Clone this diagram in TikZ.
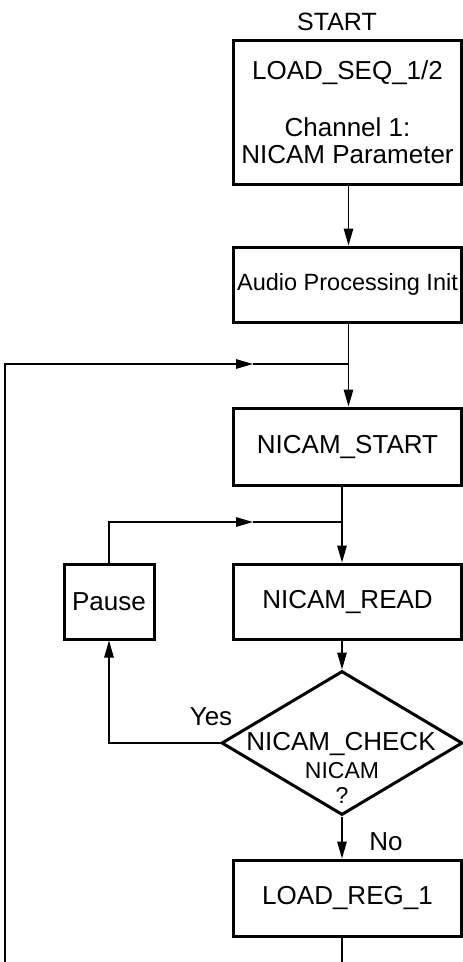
\documentclass[tikz,border=0pt]{standalone}
\usepackage{fontspec}
\setmainfont{Liberation Sans}
\usetikzlibrary{arrows.meta,shapes.geometric}
\begin{document}
\begin{tikzpicture}[x=1pt,y=-1pt,
  box/.style={draw, line width=3pt, rectangle, minimum width=228pt, inner sep=0pt,
    font=\fontsize{26}{27}\selectfont, align=center},
  conn/.style={line width=1.3pt},
  arr/.style={conn, -{Triangle[length=17pt,width=9.5pt]}},
  lbl/.style={font=\fontsize{26}{27}\selectfont, inner sep=0pt, anchor=base}]
\useasboundingbox (0,0) rectangle (463,962);

% boxes
\node[box, minimum height=144pt] (seq) at (347.5,112) {LOAD\_SEQ\_1/2\\[30pt]Channel 1:\\NICAM Parameter};
\node[box, minimum height=75pt, font=\fontsize{23.5}{26}\selectfont] (audio) at (347.5,284.5) {Audio Processing Init};
\node[box, minimum height=77pt] (nstart) at (347.5,446.5) {NICAM\_START};
\node[box, minimum height=75pt] (nread) at (347.5,601.5) {NICAM\_READ};
\node[box, minimum width=90pt, minimum height=75pt] (pause) at (109,601.5) {Pause};
\node[draw, diamond, line width=3pt, minimum width=241pt, minimum height=144pt, inner sep=0pt] (chk) at (342,743) {};
\node[box, minimum height=76pt] (loadreg) at (347.5,898) {LOAD\_REG\_1};

% texts
\node[lbl, font=\fontsize{25}{27}\selectfont] (start) at (337,30) {START};
\node[lbl] (t1) at (341,750.5) {NICAM\_CHECK};
\node[lbl, font=\fontsize{23}{25}\selectfont] (t2) at (342,778) {NICAM};
\node[lbl, font=\fontsize{23}{25}\selectfont] (t3) at (342,803) {?};
\node[lbl] (yes) at (211,725) {Yes};
\node[lbl] (no) at (386,850) {No};

% coordinates
\coordinate (j1) at (348.5,364);
\coordinate (m1) at (253,364);
\coordinate (lt) at (5,364);
\coordinate (lb) at (5,962);
\coordinate (j2) at (342,522);
\coordinate (m2) at (253,522);
\coordinate (pt) at (109,522);
\coordinate (yc) at (109,743);
\coordinate (rb) at (342,962);

% connectors
\draw[arr] (seq.south -| j1) -- (audio.north -| j1);
\draw[arr] (audio.south -| j1) -- (nstart.north -| j1);
\draw[arr] (lb) -- (lt) -- (m1);
\draw[conn] (m1) -- (j1);
\draw[arr] (nstart.south -| j2) -- (nread.north -| j2);
\draw[arr] (pause.north) -- (pt) -- (m2);
\draw[conn] (m2) -- (j2);
\draw[arr] (nread.south -| j2) -- (chk.north);
\draw[arr] (chk.west) -- (yc) -- (pause.south);
\draw[arr] (chk.south) -- (loadreg.north -| j2);
\draw[conn] (loadreg.south -| j2) -- (rb);
\end{tikzpicture}
\end{document}
